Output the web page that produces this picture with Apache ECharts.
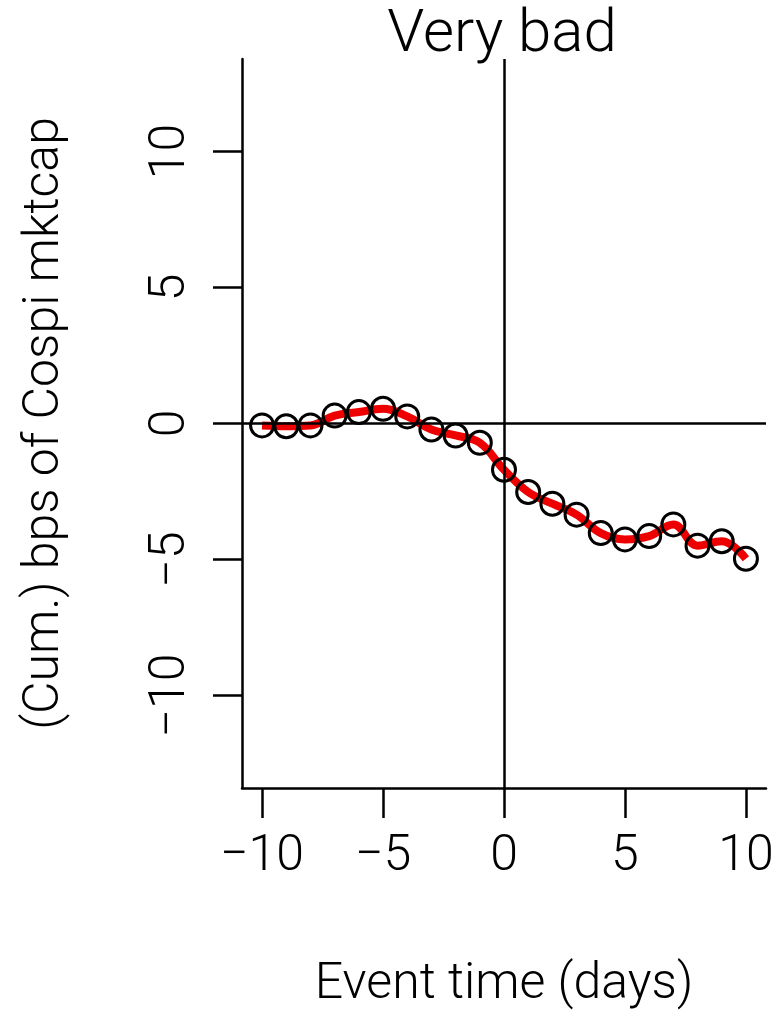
<!DOCTYPE html>
<html>
<head>
    <meta charset="utf-8">
    <title>Very bad</title>
    <script type="text/javascript" src="https://cdn.jsdelivr.net/npm/echarts@6/dist/echarts.min.js"></script>
    <style>
        html, body { margin: 0; padding: 0; background: #fff; }
    </style>
</head>
<body>
    <div id="main" style="width: 782px;height:1017px;"></div>
    <script type="text/javascript">
        // event days and cumulative bps
        var days = [-10, -9, -8, -7, -6, -5, -4, -3, -2, -1, 0, 1, 2, 3, 4, 5, 6, 7, 8, 9, 10];
        var cumBps = [-0.07, -0.1, -0.07, 0.29, 0.42, 0.54, 0.26, -0.22, -0.44, -0.71, -1.7,
            -2.52, -2.95, -3.35, -4.03, -4.26, -4.14, -3.71, -4.49, -4.33, -4.97];
        var xTicks = [-10, -5, 0, 5, 10];
        var yTicks = [-10, -5, 0, 5, 10];

        var FONT = 'Roboto, "Liberation Sans", sans-serif';
        var FS = 50;       // axis text
        var FS_TITLE = 60; // title is 1.2x

        function minus(v) {
            return String(v).replace('-', '\u2212');
        }

        var points = days.map(function (d, i) { return [d, cumBps[i]]; });

        var myChart = echarts.init(document.getElementById('main'));
        myChart.setOption({
            backgroundColor: '#fff',
            animation: false,
            title: {
                text: 'Very bad',
                left: 497,
                top: 1,
                textAlign: 'center',
                textStyle: { fontFamily: FONT, fontSize: FS_TITLE, fontWeight: 300, color: '#000', lineHeight: FS_TITLE }
            },
            grid: { left: 242, top: 59, width: 524, height: 729 },
            xAxis: {
                type: 'value',
                min: -10.83,
                max: 10.83,
                name: 'Event time (days)',
                nameLocation: 'middle',
                nameGap: 172,
                nameTextStyle: { fontFamily: FONT, fontSize: FS, fontWeight: 300, color: '#000', lineHeight: FS },
                splitLine: { show: false },
                axisLine: { show: true, onZero: false, lineStyle: { color: '#000', width: 2.5 } },
                axisTick: { show: true, length: 30, customValues: xTicks, lineStyle: { color: '#000', width: 2.5 } },
                axisLabel: {
                    customValues: xTicks,
                    margin: 44,
                    fontFamily: FONT, fontSize: FS, fontWeight: 300, color: '#000', lineHeight: FS,
                    formatter: minus
                }
            },
            yAxis: {
                type: 'value',
                min: -13.4,
                max: 13.4,
                name: '(Cum.) bps of Cospi mktcap',
                nameLocation: 'middle',
                nameGap: 172,
                nameRotate: 90,
                nameTextStyle: { fontFamily: FONT, fontSize: FS, fontWeight: 300, color: '#000', lineHeight: FS },
                splitLine: { show: false },
                axisLine: { show: true, onZero: false, lineStyle: { color: '#000', width: 2.5 } },
                axisTick: { show: true, length: 29, customValues: yTicks, lineStyle: { color: '#000', width: 2.5 } },
                axisLabel: {
                    customValues: yTicks,
                    rotate: 90,
                    margin: 46,
                    fontFamily: FONT, fontSize: FS, fontWeight: 300, color: '#000', lineHeight: FS,
                    formatter: minus
                }
            },
            series: [{
                name: 'smooth',
                type: 'line',
                data: points,
                smooth: 0.4,
                symbol: 'none',
                z: 2,
                lineStyle: { color: '#ee0000', width: 8 },
                markLine: {
                    silent: true,
                    symbol: 'none',
                    label: { show: false },
                    lineStyle: { color: '#000', width: 2.5, type: 'solid' },
                    data: [{ xAxis: 0 }, { yAxis: 0 }]
                }
            }, {
                name: 'points',
                type: 'scatter',
                data: points,
                symbol: 'circle',
                symbolSize: 23,
                z: 3,
                itemStyle: { color: 'rgba(0,0,0,0)', borderColor: '#000', borderWidth: 3, opacity: 1 }
            }]
        });
    </script>
</body>
</html>
